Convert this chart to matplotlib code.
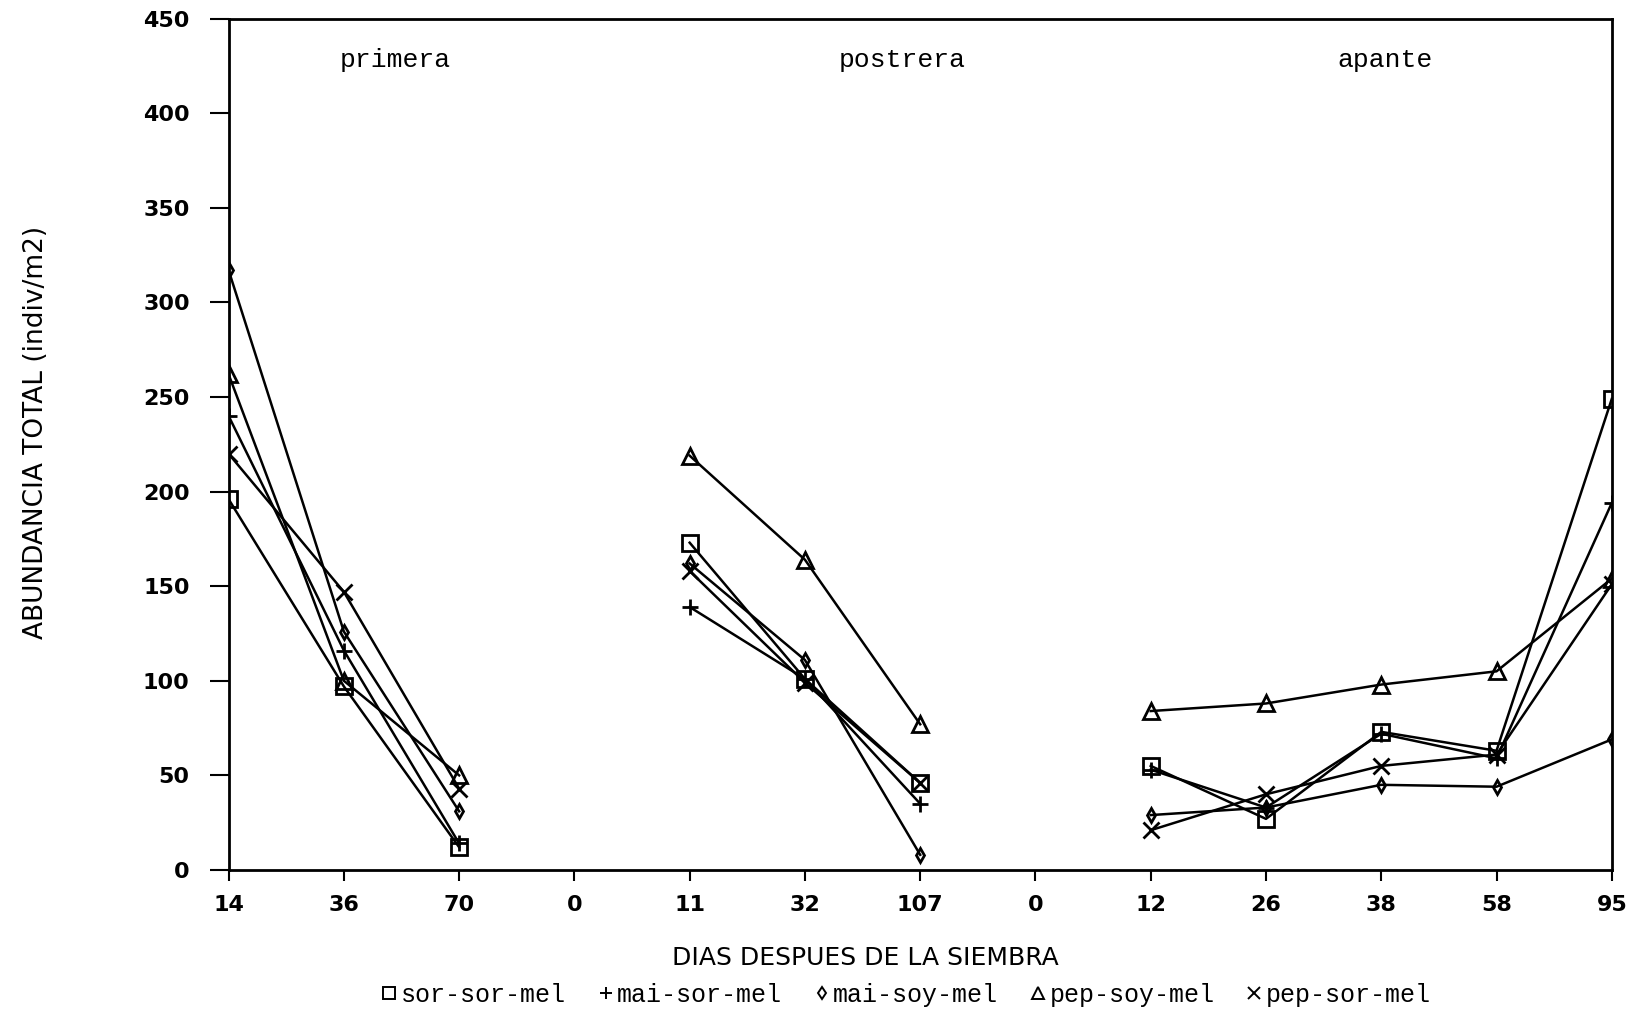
import numpy as np
import matplotlib
matplotlib.use('Agg')
import matplotlib.pyplot as plt
from matplotlib.lines import Line2D

# x tick labels (days after sowing), gaps between periods are the "0" slots
dias = ['14', '36', '70', '0', '11', '32', '107', '0', '12', '26', '38', '58', '95']

nan = np.nan
sor_sor_mel = [196, 97, 12, nan, 173, 101, 46, nan, 55, 27, 73, 63, 249]
mai_sor_mel = [240, 116, 14, nan, 139, 101, 35, nan, 53, 33, 72, 59, 194]
mai_soy_mel = [317, 126, 31, nan, 162, 111, 8, nan, 29, 33, 45, 44, 69]
pep_soy_mel = [262, 100, 50, nan, 219, 164, 77, nan, 84, 88, 98, 105, 154]
pep_sor_mel = [220, 147, 43, nan, 158, 99, 46, nan, 21, 40, 55, 61, 151]

series = [
    ('sor-sor-mel', sor_sor_mel, 's'),
    ('mai-sor-mel', mai_sor_mel, '+'),
    ('mai-soy-mel', mai_soy_mel, 'd'),
    ('pep-soy-mel', pep_soy_mel, '^'),
    ('pep-sor-mel', pep_sor_mel, 'x'),
]

periodos = ['primera', 'postrera', 'apante']
periodo_x = [1.45, 5.84, 10.03]

fig = plt.figure(figsize=(16.33, 10.17), dpi=100)
ax = fig.add_axes([0.140, 0.1446, 0.847, 0.837])

x = np.arange(len(dias))
for name, vals, mk in series:
    ax.plot(x, np.array(vals, dtype=float), color='black', linewidth=1.8,
            marker=mk, markersize=11 if mk != 'd' else 7,
            markerfacecolor='none', markeredgecolor='black',
            markeredgewidth=2, label=name)

ax.set_xlim(0, 12)
ax.set_ylim(0, 450)
ax.set_xticks(x)
ax.set_xticklabels(dias)
ax.set_yticks(np.arange(0, 451, 50))
ax.tick_params(axis='y', direction='out', length=14, width=1.5, pad=14,
               labelsize=16)
ax.tick_params(axis='x', direction='out', length=8, width=1.5, pad=10,
               labelsize=16)
for lab in ax.get_xticklabels() + ax.get_yticklabels():
    lab.set_fontweight('bold')
for sp in ax.spines.values():
    sp.set_linewidth(2)

for name, px in zip(periodos, periodo_x):
    ax.text(px, 428, name, ha='center', va='center',
            family='Liberation Mono', fontsize=19)

fig.text(0.022, 0.575, 'ABUNDANCIA TOTAL (indiv/m2)', rotation=90,
         ha='center', va='center', fontsize=19)
fig.text(0.530, 0.058, 'DIAS DESPUES DE LA SIEMBRA', ha='center',
         va='center', fontsize=18)

handles = [Line2D([], [], linestyle='none', marker=mk, color='black',
                  markerfacecolor='none', markersize=9 if mk != 'd' else 6,
                  markeredgewidth=1.4)
           for _, _, mk in series]
fig.legend(handles, [s[0] for s in series], loc='center',
           bbox_to_anchor=(0.555, 0.022), ncol=5, frameon=False,
           handlelength=0.6, handletextpad=0.15, columnspacing=1.3,
           prop={'family': 'Liberation Mono', 'size': 18})

fig.savefig('out.png', dpi=100)
